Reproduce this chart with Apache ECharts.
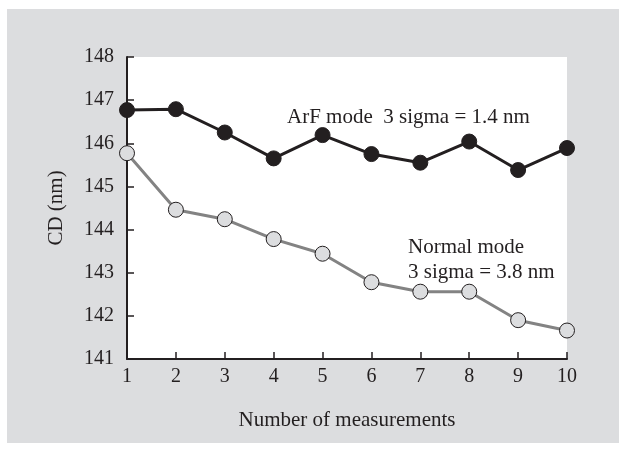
<!DOCTYPE html>
<html><head><meta charset="utf-8">
<script src="https://cdn.jsdelivr.net/npm/echarts@6/dist/echarts.min.js"></script>
<style>html,body{margin:0;padding:0;background:#fff}#c{width:619px;height:456px}</style>
</head><body><div id="c"></div>
<script>
var measurements = [1,2,3,4,5,6,7,8,9,10];
var arfMode = [146.77,146.79,146.25,145.65,146.19,145.75,145.55,146.04,145.38,145.89];
var normalMode = [145.77,144.46,144.24,143.78,143.44,142.78,142.56,142.56,141.90,141.66];
var yTicks = [141,142,143,144,145,146,147,148];

var font = '"Liberation Serif", "Times New Roman", serif';
var txt = '#231f20';
var chart = echarts.init(document.getElementById('c'), null, {renderer:'canvas'});
function pairs(v){ return measurements.map(function(x,i){return [x,v[i]];}); }
chart.setOption({
  backgroundColor: '#fff',
  animation: false,
  graphic: [
    {type:'rect', z:-10, shape:{x:7,y:9,width:612,height:434}, style:{fill:'#dcdddf'}},
    {type:'text', x:287, y:117, z:10, style:{text:'ArF mode  3 sigma = 1.4 nm', font:'21px '+font, fill:txt, verticalAlign:'middle'}},
    {type:'text', x:408, y:247, z:10, style:{text:'Normal mode', font:'21px '+font, fill:txt, verticalAlign:'middle'}},
    {type:'text', x:408, y:272, z:10, style:{text:'3 sigma = 3.8 nm', font:'21px '+font, fill:txt, verticalAlign:'middle'}}
  ],
  grid: {left:127, top:57, right:52, bottom:97, show:true, backgroundColor:'#fff', borderWidth:0},
  xAxis: {
    type:'value', min:1, max:10, interval:1,
    name:'Number of measurements', nameLocation:'middle', nameGap:51,
    nameTextStyle:{fontFamily:font, fontSize:21, color:txt},
    axisLine:{show:true, lineStyle:{color:txt, width:2}},
    axisTick:{show:true, inside:true, length:7, lineStyle:{color:txt, width:1.5}},
    axisLabel:{fontFamily:font, fontSize:20, color:txt, margin:8},
    splitLine:{show:false}
  },
  yAxis: {
    type:'value', min:yTicks[0], max:yTicks[yTicks.length-1], interval:1,
    name:'CD (nm)', nameLocation:'middle', nameGap:60, nameRotate:90,
    nameTextStyle:{fontFamily:font, fontSize:21, color:txt},
    axisLine:{show:true, lineStyle:{color:txt, width:2}},
    axisTick:{show:true, inside:true, length:7, lineStyle:{color:txt, width:1.5}},
    axisLabel:{fontFamily:font, fontSize:20, color:txt, margin:13},
    splitLine:{show:false}
  },
  series: [
    {type:'line', name:'Normal mode', data:pairs(normalMode), symbol:'circle', symbolSize:15,
     lineStyle:{color:'#838383', width:3}, itemStyle:{color:'#dcdddf', borderColor:'#231f20', borderWidth:1}, z:3},
    {type:'line', name:'ArF mode', data:pairs(arfMode), symbol:'circle', symbolSize:15,
     lineStyle:{color:'#231f20', width:3}, itemStyle:{color:'#231f20', borderColor:'#231f20', borderWidth:1}, z:4}
  ]
});
</script></body></html>
